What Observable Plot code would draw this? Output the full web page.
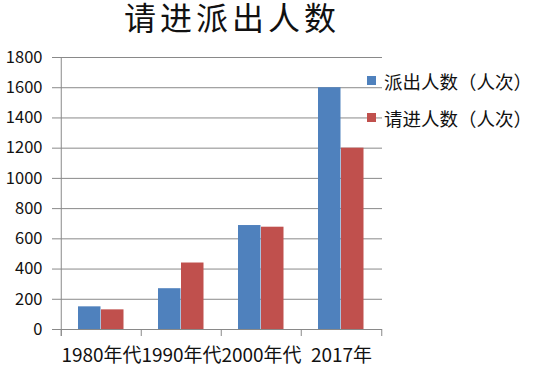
<!DOCTYPE html>
<html>
<head>
<meta charset="utf-8">
<script src="https://cdn.jsdelivr.net/npm/d3@7"></script>
<script src="https://cdn.jsdelivr.net/npm/@observablehq/plot@0.6"></script>
<style>
  html, body { margin: 0; padding: 0; background: #fff; }
  #wrap { position: relative; width: 550px; height: 367px; overflow: hidden; background: #fff;
          font-family: "Noto Sans CJK SC", sans-serif; color: #111; }
  #title { position: absolute; left: 0; top: 0; width: 464px; text-align: center;
           font-size: 32px; line-height: 33px; letter-spacing: 4px; }
  #chart { position: absolute; left: 0; top: 40px; }
  #legend { position: absolute; left: 367px; top: 62px; font-size: 18.5px; }
  .item { display: flex; align-items: center; height: 37px; }
  .sw { width: 9px; height: 9px; margin-right: 8px; }
  svg [aria-label^="x-axis"] text { font-size: 19px; }
  svg [aria-label^="y-axis"] text { font-size: 16.5px; }
</style>
</head>
<body>
<div id="wrap">
  <div id="title">请进派出人数</div>
  <div id="chart"></div>
  <div id="legend"></div>
</div>
<script>
const categories = ["1980年代", "1990年代", "2000年代", "2017年"];
const seriesNames = ["派出人数（人次）", "请进人数（人次）"];
const paichu = [150, 270, 688, 1600];
const qingjin = [130, 440, 677, 1200];
const yTicks = [0, 200, 400, 600, 800, 1000, 1200, 1400, 1600, 1800];
const colors = ["#4F81BD", "#C0504D"];

const rowsA = categories.map((c, i) => ({category: c, value: paichu[i]}));
const rowsB = categories.map((c, i) => ({category: c, value: qingjin[i]}));

const W = 550, H = 327, mL = 60, mR = 168, mT = 17, mB = 38;
const bw = (W - mL - mR) / categories.length;
const grid = "#898989";

const chart = Plot.plot({
  width: W, height: H,
  marginTop: mT, marginBottom: mB, marginLeft: mL, marginRight: mR,
  style: {fontFamily: "'Noto Sans CJK SC', sans-serif", color: "#111", background: "transparent", overflow: "visible"},
  x: {domain: categories, padding: 0, tickSize: 0, tickPadding: 19, label: null},
  y: {domain: [0, 1800], ticks: yTicks, tickSize: 0, tickPadding: 18, label: null, tickFormat: d => String(d)},
  marks: [
    Plot.ruleY(yTicks, {stroke: grid, strokeWidth: 1, insetLeft: -8}),
    Plot.ruleX([categories[0]], {dx: -bw / 2, stroke: grid, insetBottom: -7}),
    Plot.ruleX(categories, {dx: -bw / 2, y1: 0, y2: 0, insetTop: 7, stroke: grid}),
    Plot.ruleX([categories[categories.length - 1]], {dx: bw / 2, y1: 0, y2: 0, insetTop: 7, stroke: grid}),
    Plot.barY(rowsA, {x: "category", y: "value", fill: colors[0], insetLeft: 17, insetRight: 40.5}),
    Plot.barY(rowsB, {x: "category", y: "value", fill: colors[1], insetLeft: 40, insetRight: 17.5})
  ]
});
document.getElementById("chart").appendChild(chart);

const legend = document.getElementById("legend");
seriesNames.forEach((name, i) => {
  const item = document.createElement("div");
  item.className = "item";
  const sw = document.createElement("span");
  sw.className = "sw";
  sw.style.background = colors[i];
  const t = document.createElement("span");
  t.textContent = name;
  item.appendChild(sw);
  item.appendChild(t);
  legend.appendChild(item);
});
</script>
</body>
</html>
